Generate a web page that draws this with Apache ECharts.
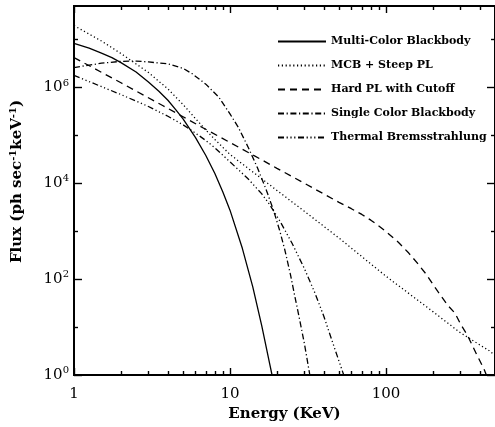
<!DOCTYPE html>
<html><head><meta charset="utf-8">
<script src="https://cdn.jsdelivr.net/npm/echarts/dist/echarts.min.js"></script>
<style>html,body{margin:0;padding:0;background:#fff}#c{width:495px;height:427px}</style>
</head><body><div id="c"></div>
<script>
// ---- data ----
const seriesNames = ['Multi-Color Blackbody', 'MCB + Steep PL', 'Hard PL with Cutoff', 'Single Color Blackbody', 'Thermal Bremsstrahlung'];

const mcbE = [1, 1.25, 1.5, 1.75, 2, 2.5, 3, 3.5, 4, 4.5, 5, 6, 7, 8, 9, 10, 12, 14, 16, 18, 18.6];
const mcbF = [8.3e6, 6.6e6, 5.2e6, 4.2e6, 3.3e6, 2.1e6, 1.3e6, 8.3e5, 5.4e5, 3.4e5, 2.2e5, 9.1e4, 3.8e4, 1.6e4, 6.6e3, 2.75e3, 440, 69, 10.5, 1.66, 1];

const mcbPlE = [1, 1.5, 2, 3, 4, 5, 6, 7, 8, 10, 15, 20, 30, 50, 100, 200, 300, 460, 520];
const mcbPlF = [1.95e7, 9.3e6, 5.1e6, 2.05e6, 9.3e5, 4.4e5, 2.25e5, 1.3e5, 8.2e4, 4.0e4, 1.45e4, 7.1e3, 2.6e3, 7.2e2, 1.15e2, 21, 7.6, 3.2, 2.3];

const hardE = [1, 2, 3.7, 5, 6.6, 10, 13.1, 15.8, 20, 30, 50, 60, 70, 80, 90, 100, 120, 140, 160, 180, 200, 216, 250, 277, 300, 334, 380, 428, 450];
const hardF = [4.2e6, 1.25e6, 4.2e5, 2.45e5, 1.48e5, 7.1e4, 4.4e4, 3.15e4, 2.05e4, 1.0e4, 4.0e3, 2.95e3, 2.24e3, 1.7e3, 1.29e3, 980, 590, 350, 210, 130, 78, 54, 28, 19.5, 11.7, 6.6, 2.75, 1.26, 0.83];

const scbbE = [1, 1.5, 2, 2.5, 3, 4, 5, 5.7, 7, 8.5, 10, 11.3, 13.1, 15, 17, 19, 20.8, 22.5, 24.4, 26, 28, 30, 32.5];
const scbbF = [2.6e6, 3.2e6, 3.5e6, 3.55e6, 3.4e6, 3.1e6, 2.5e6, 1.95e6, 1.17e6, 6.2e5, 2.8e5, 1.48e5, 5.6e4, 2.1e4, 7.6e3, 2.75e3, 1.05e3, 400, 126, 45, 14, 4.5, 1];

const tbE = [1, 2, 3, 4, 5, 6, 7, 8, 10, 13, 16, 18, 21, 25, 30, 35, 40, 47, 53.6];
const tbF = [1.78e6, 7.1e5, 4.0e5, 2.5e5, 1.66e5, 1.12e5, 7.8e4, 5.5e4, 2.8e4, 1.26e4, 6.0e3, 3.55e3, 1.58e3, 560, 166, 52, 16.6, 3.5, 1];

const xMajor = [1, 10, 100];
const xMinor = [2, 3, 4, 5, 6, 7, 8, 9, 20, 30, 40, 50, 60, 70, 80, 90, 200, 300, 400];
const yMajor = [1, 1e2, 1e4, 1e6];
const yMinor = [10, 1e3, 1e5, 1e7];
const xMin = 1, xMax = 500, yMin = 1, yMax = 5e7;

// ---- chart ----
const FONT = 'DejaVu Serif';
const zip = (a, b) => a.map((v, i) => [v, b[i]]);
const dashes = ['solid', [1.2, 2.6], [7, 5], [6, 2.6, 1.2, 2.6], [6, 2.6, 1.2, 2.6, 1.2, 2.6, 1.2, 2.6]];
const sets = [[mcbE, mcbF], [mcbPlE, mcbPlF], [hardE, hardF], [scbbE, scbbF], [tbE, tbF]];

function xAx(pos, ticks, len, labels) {
  return {
    type: 'log', logBase: 10, min: xMin, max: xMax, position: pos,
    axisLine: { show: true, onZero: false, lineStyle: { color: '#000', width: 2 } },
    axisTick: { show: true, inside: true, length: len, customValues: ticks, lineStyle: { color: '#000', width: 1.4 } },
    axisLabel: labels ? { show: true, customValues: labels, margin: 12, color: '#000', fontFamily: FONT, fontSize: 15,
      formatter: v => String(Math.round(v)) } : { show: false },
    splitLine: { show: false }, minorTick: { show: false }
  };
}
function yAx(pos, ticks, len, labels) {
  return {
    type: 'log', logBase: 10, min: yMin, max: yMax, position: pos,
    axisLine: { show: true, onZero: false, lineStyle: { color: '#000', width: 2 } },
    axisTick: { show: true, inside: true, length: len, customValues: ticks, lineStyle: { color: '#000', width: 1.4 } },
    axisLabel: labels ? { show: true, customValues: labels, margin: 5, color: '#000', fontFamily: FONT,
      formatter: v => '{a|10}{b|' + Math.round(Math.log10(v)) + '}',
      rich: { a: { fontSize: 15, fontFamily: FONT, color: '#000' }, b: { fontSize: 10, fontFamily: FONT, color: '#000', padding: [0, 0, 9, 0] } }
    } : { show: false },
    splitLine: { show: false }, minorTick: { show: false }
  };
}

const xAxes = [xAx('bottom', xMajor, 7, xMajor), xAx('bottom', xMinor, 4, null), xAx('top', xMajor, 7, null), xAx('top', xMinor, 4, null)];
const yAxes = [yAx('left', yMajor, 8, yMajor), yAx('left', yMinor, 4, null), yAx('right', yMajor, 8, null), yAx('right', yMinor, 4, null)];

xAxes[0].name = 'Energy (KeV)';
xAxes[0].nameLocation = 'middle';
xAxes[0].nameGap = 31;
xAxes[0].nameTextStyle = { fontFamily: FONT, fontSize: 15, fontWeight: 'bold', color: '#000' };

yAxes[0].name = 'Flux (ph sec{s|-1}keV{s|-1})';
yAxes[0].nameLocation = 'middle';
yAxes[0].nameGap = 48;
yAxes[0].nameTextStyle = { fontFamily: FONT, fontSize: 15, fontWeight: 'bold', color: '#000', padding: [0, 0, 0, 18],
  rich: { s: { fontFamily: FONT, fontSize: 10, fontWeight: 'bold', color: '#000', padding: [0, 0, 8, 0] } } };

const chart = echarts.init(document.getElementById('c'), null, { renderer: 'canvas' });
chart.setOption({
  animation: false,
  backgroundColor: '#fff',
  grid: { left: 73, right: -8, top: 6, bottom: 52, containLabel: false },
  xAxis: xAxes,
  yAxis: yAxes,
  legend: {
    orient: 'vertical', left: 272, top: 31, itemWidth: 48, itemHeight: 12, itemGap: 13,
    selectedMode: false,
    data: seriesNames,
    itemStyle: { color: 'rgba(0,0,0,0)', borderWidth: 0, opacity: 0 },
    textStyle: { fontFamily: FONT, fontSize: 11, fontWeight: 'bold', color: '#000' }
  },
  series: sets.map((s, i) => ({
    name: seriesNames[i], type: 'line', xAxisIndex: 0, yAxisIndex: 0,
    data: zip(s[0], s[1]), symbol: 'none', showSymbol: false,
    smooth: false, clip: true,
    lineStyle: { color: '#000', width: 1.3, type: dashes[i] },
    itemStyle: { color: '#000' }
  }))
});
</script></body></html>
